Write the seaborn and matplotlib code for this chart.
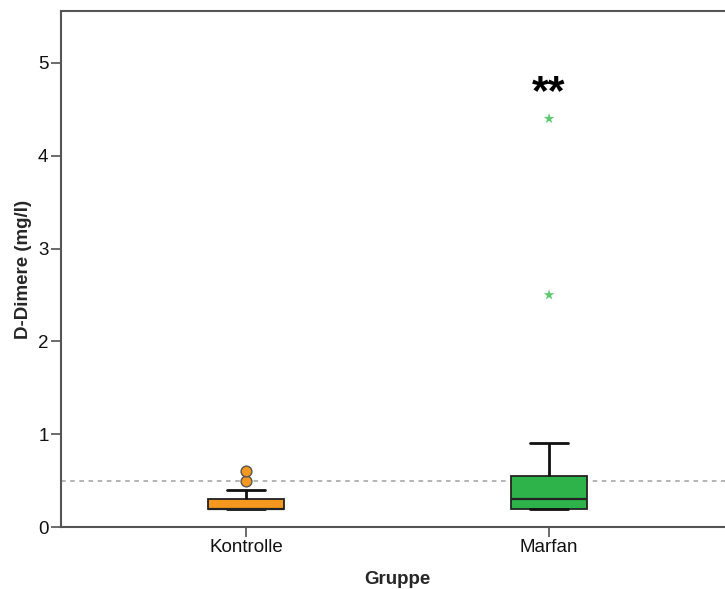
import numpy as np
import pandas as pd
import matplotlib
matplotlib.use("Agg")
import matplotlib.pyplot as plt
import seaborn as sns

# D-dimer measurements (mg/l) per group
groups = ["Kontrolle", "Marfan"]
kontrolle = [0.19] * 11 + [0.3] * 6 + [0.4, 0.5, 0.6]
marfan = [0.19] * 6 + [0.22, 0.25, 0.28, 0.3, 0.3, 0.35, 0.4, 0.5,
                       0.55, 0.55, 0.7, 0.9, 2.5, 4.4]
colors = {"Kontrolle": "#F5981F", "Marfan": "#2DB34A"}
star_color = "#5DC86E"
reference_limit = 0.5
significance = "**"
y_ticks = [0, 1, 2, 3, 4, 5]

df = pd.DataFrame({
    "Gruppe": ["Kontrolle"] * len(kontrolle) + ["Marfan"] * len(marfan),
    "D-Dimere": kontrolle + marfan,
})

sns.set_style("ticks")
plt.rcParams["font.family"] = ["Liberation Sans", "DejaVu Sans"]

fig = plt.figure(figsize=(7.25, 5.89), dpi=100)
ax = fig.add_axes([61 / 725, 1 - 527 / 589, 673 / 725, 516 / 589])

ax.axhline(reference_limit, color="#A0A0A0", lw=1.1, ls=(0, (3, 3)), zorder=0)

sns.boxplot(data=df, x="Gruppe", y="D-Dimere", hue="Gruppe", order=groups,
            palette=colors, width=0.25, whis=1.5, showfliers=False,
            legend=False, ax=ax, saturation=1,
            boxprops=dict(edgecolor="#222222", linewidth=1.3),
            medianprops=dict(color="#222222", linewidth=1.6),
            whiskerprops=dict(color="#111111", linewidth=2.0),
            capprops=dict(color="#111111", linewidth=2.0))

# outliers (circles) and extreme values (stars), SPSS style
for i, g in enumerate(groups):
    vals = np.array(df.loc[df["Gruppe"] == g, "D-Dimere"])
    q1, q3 = np.percentile(vals, [25, 75])
    iqr = q3 - q1
    out = vals[(vals > q3 + 1.5 * iqr) & (vals <= q3 + 3 * iqr)]
    ext = vals[vals > q3 + 3 * iqr]
    if len(out):
        ax.scatter([i] * len(out), out, s=60, marker="o", color=colors[g],
                   edgecolor="#555555", linewidth=1.0, zorder=4)
    if len(ext):
        ax.scatter([i] * len(ext), ext, s=65, marker="*", color=star_color,
                   edgecolor="none", zorder=4)

ax.text(1, 4.68, significance, ha="center", va="center", fontsize=31,
        fontweight="bold", color="black")

ax.set_xlim(-0.61, 1.61)
ax.set_ylim(0, 5.56)
ax.set_yticks(y_ticks)
ax.set_xlabel("Gruppe", fontsize=13.5, fontweight="bold", labelpad=10.5)
ax.set_ylabel("D-Dimere (mg/l)", fontsize=13.5, fontweight="bold", labelpad=4)
ax.tick_params(axis="both", labelsize=13.5, length=7, width=1.1, pad=2,
               color="#444444", labelcolor="#111111")
for s in ["left", "bottom", "top", "right"]:
    ax.spines[s].set_color("#555555")
    ax.spines[s].set_linewidth(1.5)

fig.savefig("out.png", dpi=100)
